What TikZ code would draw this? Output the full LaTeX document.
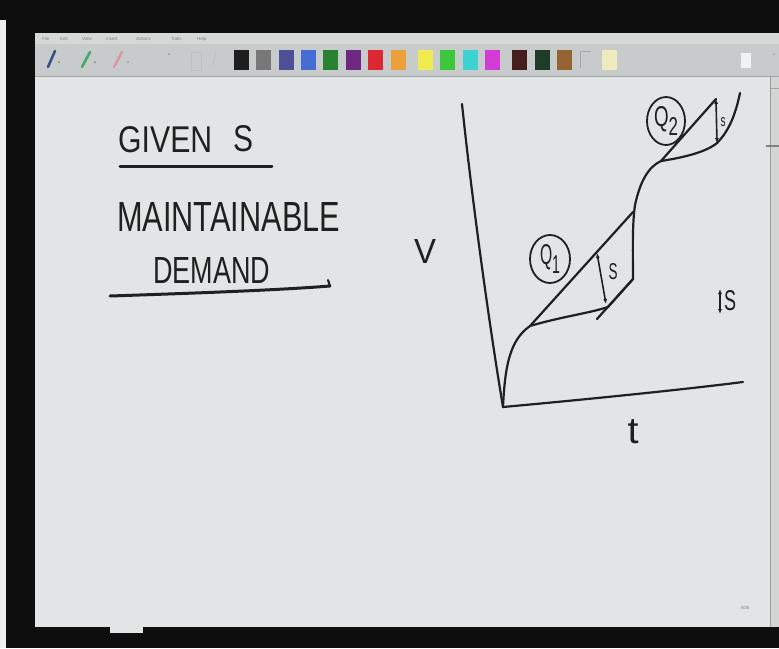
\documentclass[tikz,border=0pt]{standalone}
\usepackage{fontspec}
\setmainfont{Liberation Sans}
\usepackage{graphicx}
\usetikzlibrary{arrows.meta,shapes.geometric}
\definecolor{canvasc}{RGB}{226,229,229}
\definecolor{inkc}{RGB}{32,32,32}
\definecolor{menuc}{RGB}{214,216,216}
\definecolor{toolc}{RGB}{200,203,203}
\definecolor{framec}{RGB}{14,14,14}
\definecolor{swA}{RGB}{30,30,30}
\definecolor{swB}{RGB}{120,120,120}
\definecolor{swC}{RGB}{80,80,150}
\definecolor{swD}{RGB}{70,110,210}
\definecolor{swE}{RGB}{40,130,50}
\definecolor{swF}{RGB}{110,40,130}
\definecolor{swG}{RGB}{220,40,50}
\definecolor{swH}{RGB}{235,160,60}
\definecolor{swI}{RGB}{240,235,80}
\definecolor{swJ}{RGB}{60,200,60}
\definecolor{swK}{RGB}{60,210,210}
\definecolor{swL}{RGB}{210,60,210}
\definecolor{swM}{RGB}{70,30,30}
\definecolor{swN}{RGB}{30,60,40}
\definecolor{swO}{RGB}{150,100,50}
\definecolor{swP}{RGB}{196,198,198}
\definecolor{swQ}{RGB}{240,235,190}
\definecolor{penA}{RGB}{60,80,140}
\definecolor{penB}{RGB}{70,170,110}
\definecolor{penC}{RGB}{220,150,160}
\begin{document}
\begin{tikzpicture}[x=1pt,y=-1pt,
  ink/.style={draw=inkc,line width=2.2pt,line cap=round,line join=round},
  thinink/.style={draw=inkc,line width=1.6pt,line cap=round,line join=round},
  hand/.style={text=inkc,inner sep=0pt,font=\fontsize{30}{36}\selectfont},
  qloop/.style={ellipse,draw=inkc,line width=1.8pt,inner sep=0pt,text=inkc},
  menutext/.style={text=gray,inner sep=0pt,font=\fontsize{4.5}{5}\selectfont,anchor=west},
  sarrow/.style={thinink,{Latex[length=5pt,width=4pt]}-{Latex[length=5pt,width=4pt]}},
  swatch/.style={draw=gray!60,line width=0.4pt}
]
\useasboundingbox (0,0) rectangle (779,648);
% frame and window
\fill[framec] (0,0) rectangle (779,648);
\fill[canvasc!60!white] (0,20) rectangle (6,648);
\fill[menuc] (35,33) rectangle (779,44);
\fill[toolc] (35,44) rectangle (779,76);
\draw[gray!70,line width=0.8pt] (35,76) -- (779,76);
\fill[canvasc] (35,77) rectangle (770,627);
\fill[toolc!80!white] (770,77) rectangle (779,627);
\draw[gray!80,line width=0.6pt] (770,77) -- (770,627);
\draw[gray!70,line width=0.6pt] (771,88) -- (779,88);
\draw[gray,line width=1.2pt] (766,146) -- (779,146);
\fill[canvasc] (110,627) rectangle (143,633);
% menu
\node[menutext] (mFile) at (42,39) {File};
\node[menutext] (mEdit) at (60,39) {Edit};
\node[menutext] (mView) at (82,39) {View};
\node[menutext] (mInsert) at (106,39) {Insert};
\node[menutext] (mActions) at (136,39) {Actions};
\node[menutext] (mTools) at (171,39) {Tools};
\node[menutext] (mHelp) at (197,39) {Help};
% pens
\draw[penA,line width=2.6pt,line cap=round] (48,67) -- (55,51);
\fill[gray] (59,62) circle (1pt);
\draw[penB,line width=2.6pt,line cap=round] (82,67) -- (90,52);
\fill[gray] (95,62) circle (1pt);
\draw[penC,line width=2.4pt,line cap=round] (114,67) -- (122,52);
\fill[gray!80] (128,62) circle (1pt);
\fill[gray!80] (169,54) circle (1pt);
\draw[gray!50,line width=0.6pt] (191,52) rectangle (201,70);
\draw[gray!50,line width=0.8pt] (212,68) -- (216,52);
% palette
\foreach \xa/\col in {234/swA,256/swB,279/swC,301/swD,323/swE,346/swF,368/swG,391/swH,418/swI,440/swJ,463/swK,485/swL,512/swM,535/swN,557/swO,602/swQ}
  \fill[\col] (\xa,50) rectangle ++(15,20);
\draw[gray!70,line width=0.8pt] (580,68) -- (580,51) -- (591,51);
\fill[white!90!gray] (741,53) rectangle (751,68);
\fill[gray!70] (774,54) circle (1pt);
% handwriting, left
\node[hand,anchor=west] (given) at (118,140) {\resizebox{94pt}{26pt}{GIVEN}};
\node[hand,anchor=west] (givenS) at (233,139) {\resizebox{20pt}{26pt}{S}};
\draw[ink,line width=3pt] (120,166) -- (272,166);
\node[hand,anchor=west] (maint) at (117,217) {\resizebox{223pt}{29pt}{MAINTAINABLE}};
\node[hand,anchor=west] (demand) at (153,270) {\resizebox{117pt}{26pt}{DEMAND}};
\draw[ink,line width=3pt] (110,296) .. controls (200,293) and (280,290) .. (330,286);
\draw[ink] (330,286) -- (328,280);
% axes
\coordinate (Ytop) at (462,104);
\coordinate (O) at (503,407);
\coordinate (Xend) at (743,382);
\draw[ink] (Ytop) .. controls (472,200) and (490,330) .. (O);
\draw[ink] (O) .. controls (580,400) and (680,390) .. (Xend);
\node[hand,anchor=center] (vlab) at (425,251) {\resizebox{22pt}{24pt}{V}};
\node[hand,anchor=center,font=\fontsize{40}{44}\selectfont] (tlab) at (633,432) {\resizebox{11pt}{24pt}{t}};
% key points
\coordinate (A) at (530,326);
\coordinate (B) at (633,212);
\coordinate (C) at (661,161);
\coordinate (D) at (716,99);
\coordinate (E) at (740,93);
\coordinate (La) at (597,319);
\coordinate (Lb) at (633,279);
\coordinate (S1a) at (597,253);
\coordinate (S1b) at (606,304);
\coordinate (S2b) at (717,143);
% mass curve
\draw[ink] (O) .. controls (505,365) and (510,340) .. (A)
  .. controls (560,317) and (590,313) .. (608,307) -- (Lb)
  .. controls (633,255) and (632,225) .. (635,205)
  .. controls (640,182) and (648,167) .. (C)
  .. controls (680,158) and (705,153) .. (S2b)
  .. controls (730,130) and (736,112) .. (E);
% tangent lines
\draw[ink] (A) -- (B);
\draw[ink] (La) -- (Lb);
\draw[ink] (C) -- (D);
% S arrows
\draw[sarrow] (S1a) -- (S1b);
\node[hand,anchor=center] (s1lab) at (613,272) {\resizebox{9pt}{16pt}{S}};
\draw[sarrow] (D) -- (S2b);
\node[hand,anchor=center] (s2lab) at (723,122) {\resizebox{5pt}{9pt}{s}};
\coordinate (Ra) at (720,289);
\coordinate (Rb) at (720,314);
\draw[sarrow] (Ra) -- (Rb);
\node[hand,anchor=west] (srlab) at (724,301) {\resizebox{12pt}{20pt}{S}};
% Q loops
\node[qloop,minimum width=40pt,minimum height=48pt] (q1) at (550,259) {\resizebox{20pt}{20pt}{Q\raisebox{-0.3em}{\small 1}}};
\node[qloop,minimum width=38pt,minimum height=48pt] (q2) at (666,121) {\resizebox{24pt}{20pt}{Q\raisebox{-0.3em}{\small 2}}};
% page counter
\node[menutext,anchor=center] (page) at (745,608) {4/35};
\end{tikzpicture}
\end{document}
